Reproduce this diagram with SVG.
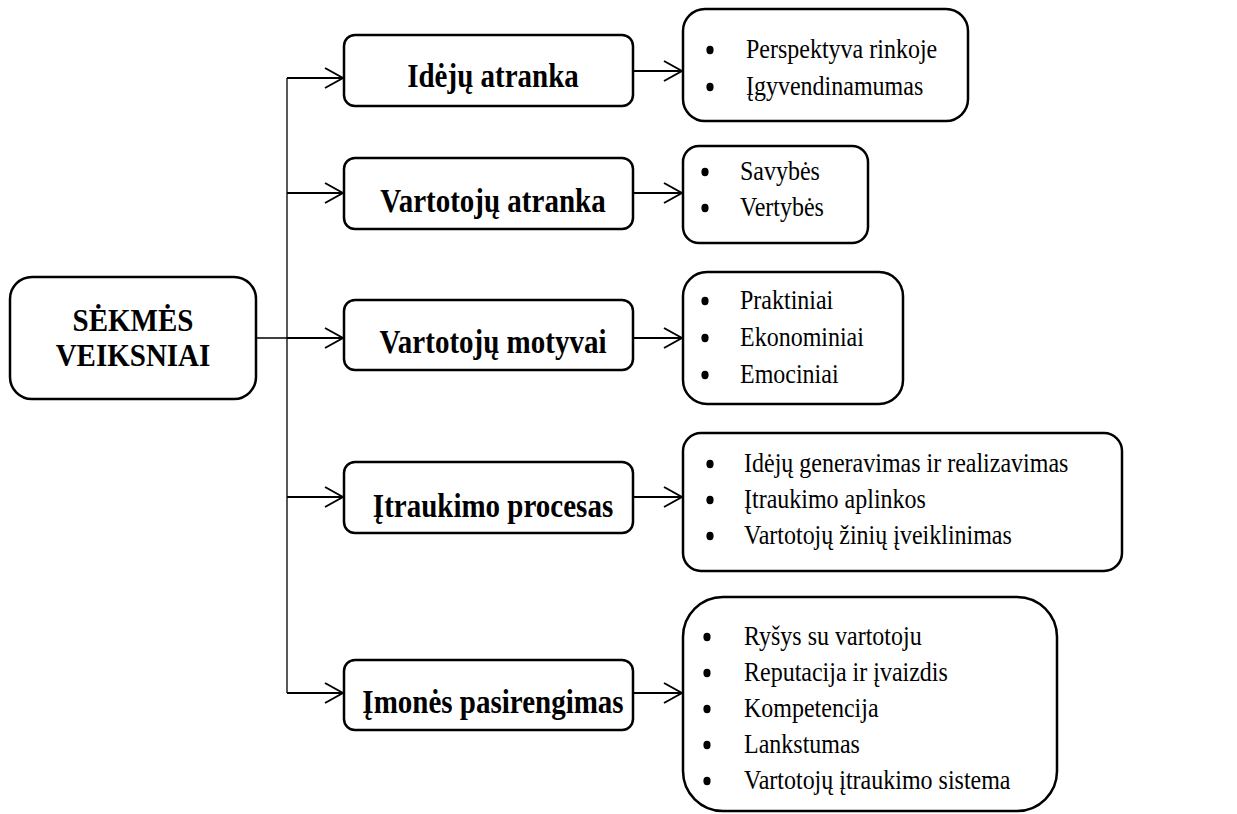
<svg xmlns="http://www.w3.org/2000/svg" width="1237" height="814" viewBox="0 0 1237 814">
<style>
.box{fill:#fff;stroke:#000;stroke-width:2.5}
.b{font-family:"Liberation Serif","Times New Roman",serif;font-weight:bold;font-size:29px;fill:#000}
.t{font-family:"Liberation Serif","Times New Roman",serif;font-size:24px;fill:#000}
.c{fill:none;stroke:#000;stroke-width:2}
.thin{fill:none;stroke:#000;stroke-width:1.3}
.dot{fill:#000}
</style>
<defs>
<marker id="arr" viewBox="0 0 20 24" refX="19" refY="12" markerWidth="20" markerHeight="24" markerUnits="userSpaceOnUse" orient="auto">
<path d="M1,2 L19,12 L1,22" fill="none" stroke="#000" stroke-width="2"/>
</marker>
</defs>
<g id="connectors">
<path class="thin" d="M256,338 H287 M287,78 V693"/>
<path class="c" marker-end="url(#arr)" d="M287,78 H343"/>
<path class="c" marker-end="url(#arr)" d="M287,193 H343"/>
<path class="c" marker-end="url(#arr)" d="M287,338 H343"/>
<path class="c" marker-end="url(#arr)" d="M287,497 H343"/>
<path class="c" marker-end="url(#arr)" d="M287,693 H343"/>
<path class="c" marker-end="url(#arr)" d="M633,71 H682"/>
<path class="c" marker-end="url(#arr)" d="M633,193 H682"/>
<path class="c" marker-end="url(#arr)" d="M633,338 H682"/>
<path class="c" marker-end="url(#arr)" d="M633,497 H682"/>
<path class="c" marker-end="url(#arr)" d="M633,693 H682"/>
</g>
<g id="root">
<rect class="box" x="10" y="277" width="246" height="122" rx="22"/>
<text class="b" text-anchor="middle" transform="translate(133,331) scale(1,1.1)">SĖKMĖS</text>
<text class="b" text-anchor="middle" transform="translate(133,366) scale(1,1.1)">VEIKSNIAI</text>
</g>
<g id="n1">
<rect class="box" x="344" y="35" width="289" height="71" rx="11"/>
<text class="b" text-anchor="middle" transform="translate(493,87) scale(1,1.15)">Idėjų atranka</text>
</g>
<g id="n2">
<rect class="box" x="344" y="158" width="289" height="71" rx="11"/>
<text class="b" text-anchor="middle" transform="translate(493,212) scale(1,1.15)">Vartotojų atranka</text>
</g>
<g id="n3">
<rect class="box" x="344" y="300" width="289" height="70" rx="11"/>
<text class="b" text-anchor="middle" transform="translate(493,353) scale(1,1.15)">Vartotojų motyvai</text>
</g>
<g id="n4">
<rect class="box" x="344" y="462" width="289" height="71" rx="11"/>
<text class="b" text-anchor="middle" transform="translate(493,517) scale(1,1.15)">Įtraukimo procesas</text>
</g>
<g id="n5">
<rect class="box" x="344" y="660" width="289" height="70" rx="11"/>
<text class="b" text-anchor="middle" transform="translate(493,713) scale(1,1.15)">Įmonės pasirengimas</text>
</g>
<g id="d1">
<rect class="box" x="683" y="9" width="285" height="112" rx="22"/>
<ellipse class="dot" cx="710" cy="50" rx="3.6" ry="4.2"/>
<ellipse class="dot" cx="710" cy="87" rx="3.6" ry="4.2"/>
<text class="t" transform="translate(746,58) scale(1,1.1)">Perspektyva rinkoje</text>
<text class="t" transform="translate(746,95) scale(1,1.1)">Įgyvendinamumas</text>
</g>
<g id="d2">
<rect class="box" x="683" y="146" width="185" height="97" rx="16"/>
<ellipse class="dot" cx="705" cy="172" rx="3.6" ry="4.2"/>
<ellipse class="dot" cx="705" cy="208" rx="3.6" ry="4.2"/>
<text class="t" transform="translate(740,180) scale(1,1.1)">Savybės</text>
<text class="t" transform="translate(740,216) scale(1,1.1)">Vertybės</text>
</g>
<g id="d3">
<rect class="box" x="683" y="272" width="220" height="132" rx="24"/>
<ellipse class="dot" cx="705" cy="301" rx="3.6" ry="4.2"/>
<ellipse class="dot" cx="705" cy="338" rx="3.6" ry="4.2"/>
<ellipse class="dot" cx="705" cy="375" rx="3.6" ry="4.2"/>
<text class="t" transform="translate(740,309) scale(1,1.1)">Praktiniai</text>
<text class="t" transform="translate(740,346) scale(1,1.1)">Ekonominiai</text>
<text class="t" transform="translate(740,383) scale(1,1.1)">Emociniai</text>
</g>
<g id="d4">
<rect class="box" x="683" y="433" width="439" height="138" rx="18"/>
<ellipse class="dot" cx="710" cy="464" rx="3.6" ry="4.2"/>
<ellipse class="dot" cx="710" cy="500" rx="3.6" ry="4.2"/>
<ellipse class="dot" cx="710" cy="536" rx="3.6" ry="4.2"/>
<text class="t" transform="translate(744,472) scale(1,1.1)">Idėjų generavimas ir realizavimas</text>
<text class="t" transform="translate(744,508) scale(1,1.1)">Įtraukimo aplinkos</text>
<text class="t" transform="translate(744,544) scale(1,1.1)">Vartotojų žinių įveiklinimas</text>
</g>
<g id="d5">
<rect class="box" x="683" y="597" width="374" height="214" rx="40"/>
<ellipse class="dot" cx="707" cy="637" rx="3.6" ry="4.2"/>
<ellipse class="dot" cx="707" cy="673" rx="3.6" ry="4.2"/>
<ellipse class="dot" cx="707" cy="709" rx="3.6" ry="4.2"/>
<ellipse class="dot" cx="707" cy="745" rx="3.6" ry="4.2"/>
<ellipse class="dot" cx="707" cy="781" rx="3.6" ry="4.2"/>
<text class="t" transform="translate(744,645) scale(1,1.1)">Ryšys su vartotoju</text>
<text class="t" transform="translate(744,681) scale(1,1.1)">Reputacija ir įvaizdis</text>
<text class="t" transform="translate(744,717) scale(1,1.1)">Kompetencija</text>
<text class="t" transform="translate(744,753) scale(1,1.1)">Lankstumas</text>
<text class="t" transform="translate(744,789) scale(1,1.1)">Vartotojų įtraukimo sistema</text>
</g>
</svg>
